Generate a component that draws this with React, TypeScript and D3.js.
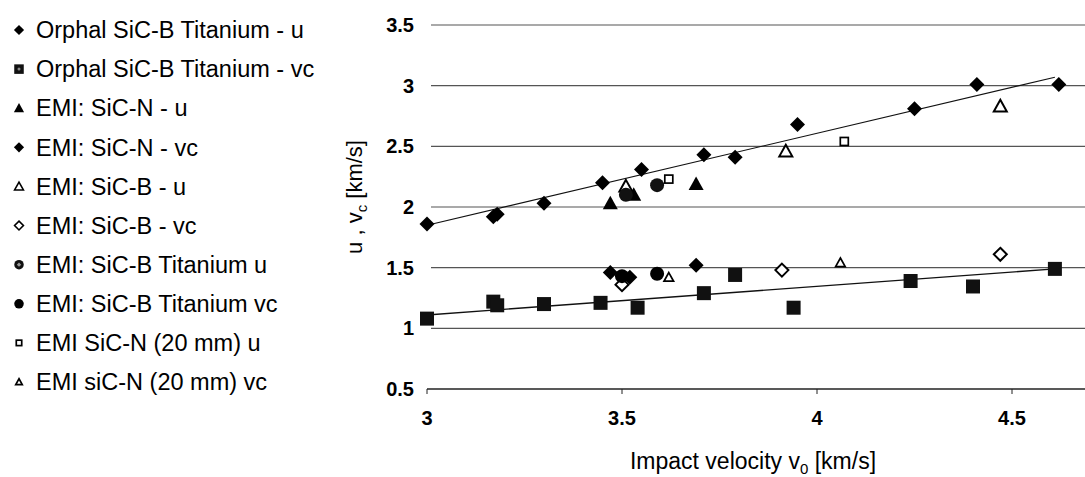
import * as d3 from 'd3';

// legend / series names, in legend order
const seriesNames = [
  'Orphal SiC-B Titanium - u',
  'Orphal SiC-B Titanium - vc',
  'EMI: SiC-N - u',
  'EMI: SiC-N - vc',
  'EMI: SiC-B - u',
  'EMI: SiC-B - vc',
  'EMI: SiC-B Titanium u',
  'EMI: SiC-B Titanium vc',
  'EMI SiC-N (20 mm) u',
  'EMI siC-N (20 mm) vc',
];

// [impact velocity, value]
const orphalU = [
  [3.0, 1.86], [3.17, 1.92], [3.18, 1.94], [3.3, 2.03], [3.45, 2.2], [3.55, 2.31],
  [3.71, 2.43], [3.79, 2.41], [3.95, 2.68], [4.25, 2.81], [4.41, 3.01], [4.62, 3.01],
];
const orphalVc = [
  [3.0, 1.08], [3.17, 1.22], [3.18, 1.19], [3.3, 1.2], [3.445, 1.21], [3.54, 1.17],
  [3.71, 1.29], [3.79, 1.44], [3.94, 1.17], [4.24, 1.39], [4.4, 1.345], [4.61, 1.49],
];
const emiSicNU = [[3.47, 2.03], [3.53, 2.1], [3.69, 2.19]];
const emiSicNVc = [[3.47, 1.46], [3.52, 1.42], [3.69, 1.52]];
const emiSicBU = [[3.51, 2.17], [3.92, 2.46], [4.47, 2.83]];
const emiSicBVc = [[3.5, 1.36], [3.91, 1.48], [4.47, 1.61]];
const emiTiU = [[3.51, 2.1], [3.59, 2.18]];
const emiTiVc = [[3.5, 1.43], [3.59, 1.45]];
const emi20U = [[3.62, 2.23], [4.07, 2.54]];
const emi20Vc = [[3.62, 1.42], [4.06, 1.54]];

const seriesData = [orphalU, orphalVc, emiSicNU, emiSicNVc, emiSicBU, emiSicBVc, emiTiU, emiTiVc, emi20U, emi20Vc];

// linear trendlines (end points)
const trendUpper = [[3.0, 1.85], [4.61, 3.07]];
const trendLower = [[3.0, 1.11], [4.61, 1.49]];

const yTicks = [0.5, 1, 1.5, 2, 2.5, 3, 3.5];
const xTicks = [3, 3.5, 4, 4.5];

const markerKinds = [
  'diamond', 'squarePat', 'triangle', 'diamond', 'triOpen',
  'diaOpen', 'circlePat', 'circle', 'sqSmall', 'triSmall',
];

const W = 1085;
const H = 477;
const FONT = '"Liberation Sans", Arial, sans-serif';

function Marker({ kind, x, y, s, legend }: { kind: string; x: number; y: number; s: number; legend?: boolean }) {
  const t = `translate(${x},${y})`;
  const dia = (r: number) => `M0,${-r}L${r},0L0,${r}L${-r},0Z`;
  const tri = (r: number) => `M0,${-r}L${r},${r * 0.8}L${-r},${r * 0.8}Z`;
  const sw = legend ? 1.6 : 2;
  switch (kind) {
    case 'diamond':
      return <path transform={t} d={dia(7.5 * s)} fill="#000" />;
    case 'squarePat':
      return (
        <g transform={t}>
          <rect x={-7 * s} y={-7 * s} width={14 * s} height={14 * s} fill="#111" />
          {legend && <circle r={1.5} fill="#888" />}
        </g>
      );
    case 'triangle':
      return <path transform={t} d={tri(7.5 * s)} fill="#000" />;
    case 'triOpen':
      return <path transform={t} d={tri(6.5 * s)} fill="#fff" stroke="#000" strokeWidth={sw} />;
    case 'diaOpen':
      return <path transform={t} d={dia(6.5 * s)} fill="#fff" stroke="#000" strokeWidth={sw} />;
    case 'circlePat':
      return (
        <g transform={t}>
          <circle r={7 * s} fill="#111" />
          {legend && <path d={dia(2.2)} fill="#999" />}
        </g>
      );
    case 'circle':
      return <circle transform={t} r={7 * s} fill="#000" />;
    case 'sqSmall':
      return <rect transform={t} x={-4 * s} y={-4 * s} width={8 * s} height={8 * s} fill="#fff" stroke="#000" strokeWidth={1.7} />;
    case 'triSmall':
      return <path transform={t} d={tri(4.8 * s)} fill="#fff" stroke="#000" strokeWidth={1.7} />;
    default:
      return null;
  }
}

export default function App() {
  const x = d3.scaleLinear().domain([3, 4.7]).range([427, 1090]);
  const y = d3.scaleLinear().domain([0.5, 3.5]).range([389, 25]);
  const legendY = d3.scalePoint().domain(seriesNames).range([30, 382]);

  const line = d3
    .line<number[]>()
    .x((d) => x(d[0]))
    .y((d) => y(d[1]));

  return (
    <svg
      width={W}
      height={H}
      style={{ position: 'absolute', left: 0, top: 0, background: '#fff' }}
      fontFamily={FONT}
    >
      <rect width={W} height={H} fill="#fff" />

      {/* gridlines */}
      {yTicks.slice(1).map((t) => (
        <line key={t} x1={x(3) + 4} x2={W} y1={y(t)} y2={y(t)} stroke="#555" strokeWidth={1.2} />
      ))}

      {/* x axis */}
      <line x1={x(3)} x2={W} y1={y(0.5)} y2={y(0.5)} stroke="#222" strokeWidth={1.3} />
      {xTicks.map((t) => (
        <line key={t} x1={x(t)} x2={x(t)} y1={y(0.5)} y2={y(0.5) + 5} stroke="#222" strokeWidth={1} />
      ))}
      {xTicks.map((t) => (
        <text key={t} x={x(t)} y={425} textAnchor="middle" fontSize={20} fontWeight="bold">
          {t}
        </text>
      ))}

      {/* y tick labels */}
      {yTicks.map((t) => (
        <text key={t} x={414} y={y(t)} dy="0.35em" textAnchor="end" fontSize={20} fontWeight="bold">
          {t}
        </text>
      ))}

      {/* axis titles */}
      <text x={753} y={469} textAnchor="middle" fontSize={23}>
        Impact velocity v<tspan fontSize={15} dy={5}>0</tspan>
        <tspan dy={-5}> [km/s]</tspan>
      </text>
      <text transform="translate(362,197) rotate(-90)" textAnchor="middle" fontSize={22}>
        u , v<tspan fontSize={15} dy={5}>c</tspan>
        <tspan dy={-5}> [km/s]</tspan>
      </text>

      {/* trendlines */}
      <path d={line(trendUpper) || ''} fill="none" stroke="#111" strokeWidth={1.1} />
      <path d={line(trendLower) || ''} fill="none" stroke="#111" strokeWidth={1.4} />

      {/* data markers */}
      {seriesData.map((pts, i) =>
        pts.map((p, j) => <Marker key={`${i}-${j}`} kind={markerKinds[i]} x={x(p[0])} y={y(p[1])} s={1} />)
      )}

      {/* legend */}
      {seriesNames.map((name, i) => (
        <g key={name}>
          <Marker kind={markerKinds[i]} x={19} y={legendY(name) || 0} s={0.68} legend />
          <text x={36} y={legendY(name) || 0} dy="0.35em" fontSize={23.5}>
            {name}
          </text>
        </g>
      ))}
    </svg>
  );
}
